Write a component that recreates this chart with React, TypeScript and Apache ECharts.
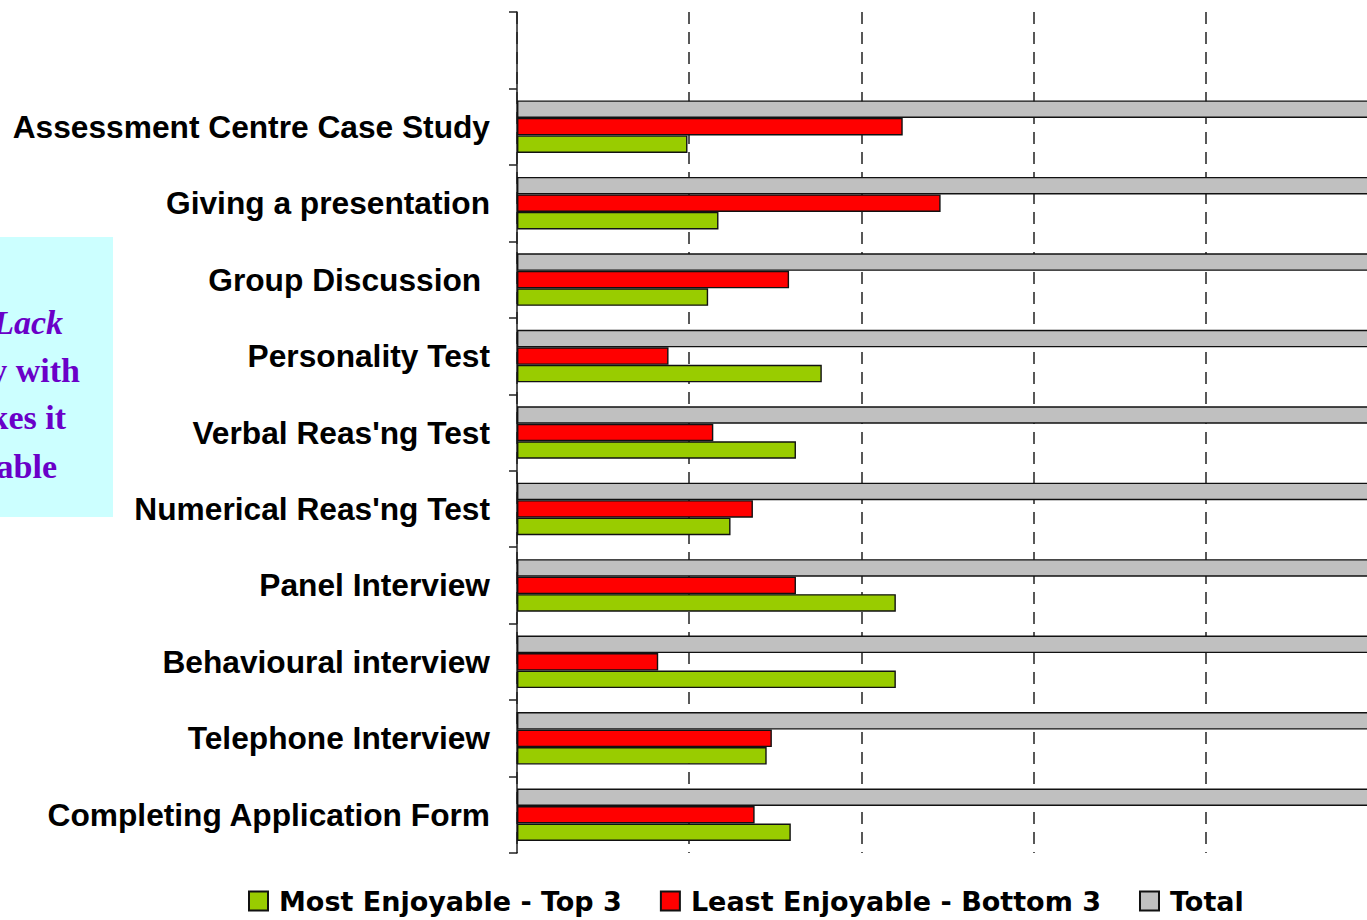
import React, { useEffect, useRef } from "react";
import * as echarts from "echarts";

// Categories listed bottom-to-top (last one is the empty top slot)
const categories = [
  "Completing Application Form",
  "Telephone Interview",
  "Behavioural interview",
  "Panel Interview",
  "Numerical Reas'ng Test",
  "Verbal Reas'ng Test",
  "Personality Test",
  "Group Discussion ",
  "Giving a presentation",
  "Assessment Centre Case Study",
  "",
];

const mostEnjoyable = [15.9, 14.5, 22.0, 22.0, 12.4, 16.2, 17.7, 11.1, 11.7, 9.9, null];
const leastEnjoyable = [13.8, 14.8, 8.2, 16.2, 13.7, 11.4, 8.8, 15.8, 24.6, 22.4, null];
const total = [100, 100, 100, 100, 100, 100, 100, 100, 100, 100, null];

const seriesNames = ["Most Enjoyable - Top 3", "Least Enjoyable - Bottom 3", "Total"];
const seriesColors = ["#99CC00", "#FF0000", "#C0C0C0"];

const noteLines = ["Lack", "y with", "kes it", "able"];
const noteRight = [63, 80, 66, 57];
const noteY = [322, 370, 417, 466];

export default function App() {
  const ref = useRef<HTMLDivElement>(null);
  useEffect(() => {
    const chart = echarts.init(ref.current!, null, { renderer: "svg" });
    const font = "'Liberation Sans', Arial, sans-serif";
    const legendFont = "'DejaVu Sans', Verdana, sans-serif";
    const serif = "'Liberation Serif', 'Times New Roman', serif";
    const border = { borderColor: "#111", borderWidth: 1.4 };
    const datasets = [mostEnjoyable, leastEnjoyable, total];
    // drawn top-to-bottom within each category: Total, Least, Most
    const drawOrder = [2, 1, 0];
    chart.setOption({
      animation: false,
      backgroundColor: "#ffffff",
      grid: {
        left: 517,
        top: 12,
        width: 861,
        height: 841,
        containLabel: false,
        outerBoundsMode: "none",
      },
      xAxis: {
        type: "value",
        min: 0,
        max: 50,
        interval: 10,
        axisLine: { show: false },
        axisTick: { show: false },
        axisLabel: { show: false },
        splitLine: { show: true, lineStyle: { color: "#222", width: 1.5, type: [12, 8] } },
      },
      yAxis: {
        type: "category",
        data: categories,
        axisLine: { show: true, lineStyle: { color: "#222", width: 1.5 } },
        axisTick: { show: true, length: 8, lineStyle: { color: "#222", width: 1.5 } },
        axisLabel: {
          color: "#000",
          fontFamily: font,
          fontWeight: "bold",
          fontSize: 31.7,
          margin: 27,
        },
      },
      legend: {
        left: 248,
        top: 886,
        padding: 0,
        itemWidth: 19,
        itemHeight: 19,
        itemGap: 38,
        icon: "rect",
        textStyle: {
          fontFamily: legendFont,
          fontWeight: "bold",
          fontSize: 27,
          lineHeight: 30,
          color: "#000",
          padding: [0, 0, 0, 6],
        },
        data: seriesNames,
      },
      series: drawOrder.map((i) => ({
        name: seriesNames[i],
        type: "bar",
        data: datasets[i],
        barWidth: 17.5,
        barGap: "0%",
        clip: true,
        itemStyle: { color: seriesColors[i], ...border },
      })),
      graphic: [
        {
          type: "rect",
          shape: { x: 0, y: 237, width: 113, height: 280 },
          style: { fill: "#CCFFFF" },
          silent: true,
        },
        ...noteLines.map((t, i) => ({
          type: "text",
          silent: true,
          style: {
            text: t,
            x: noteRight[i],
            y: noteY[i],
            textAlign: "right",
            textVerticalAlign: "middle",
            fontFamily: serif,
            fontWeight: "bold",
            fontStyle: i === 0 ? "italic" : "normal",
            fontSize: 34,
            fill: "#6A00C8",
          },
        })),
      ],
    });
    return () => chart.dispose();
  }, []);
  return (
    <div
      ref={ref}
      style={{ position: "absolute", left: 0, top: 0, width: 1367, height: 920 }}
    />
  );
}
